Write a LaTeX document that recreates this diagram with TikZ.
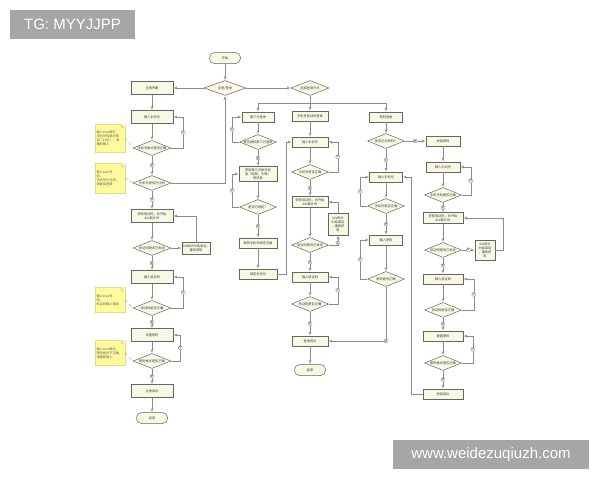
\documentclass[tikz,border=0pt]{standalone}
\usepackage{fontspec}
\setmainfont{Noto Sans CJK SC}
\newfontfamily\wmfont{Liberation Sans}
\usepackage{tikz}
\usetikzlibrary{shapes,arrows}
\definecolor{boxfill}{HTML}{F8F8E4}
\definecolor{boxline}{HTML}{66665A}
\definecolor{lineclr}{HTML}{8C8C8C}
\definecolor{txtclr}{HTML}{3A3A3A}
\definecolor{notefill}{HTML}{FFFA9C}
\definecolor{notedraw}{HTML}{E2DA8A}
\definecolor{notefold}{HTML}{E8E07C}
\definecolor{wmgray}{HTML}{A6A6A6}
\newcommand{\tinytext}{\fontsize{3.2}{3.9}\selectfont}
\newcommand{\decide}[4][37pt]{
	\node [decision, minimum width=#1] (#2) at (#3) {};
	\node [txt] at (#3) {#4};}
\newcommand{\sticky}[4]{
	\node [note, minimum height=#3] (#1) at (#2) {#4};
	\fill [white] ([xshift=-4pt]#1.north east) -- (#1.north east) -- ([yshift=-4pt]#1.north east) -- cycle;
	\fill [notefold] ([xshift=-4pt]#1.north east) -- ([xshift=-4pt,yshift=-4pt]#1.north east) -- ([yshift=-4pt]#1.north east) -- cycle;}
\tikzset{
	proc/.style={draw=boxline, fill=boxfill, line width=0.5pt, minimum width=36pt, minimum height=10pt, inner sep=0.5pt, font=\tinytext, align=center, text=txtclr},
	bigproc/.style={proc, minimum width=42pt, minimum height=13pt},
	term/.style={proc, rounded corners=5pt, minimum width=31pt, minimum height=11pt},
	decision/.style={diamond, draw=boxline, fill=boxfill, line width=0.5pt, minimum height=15pt, inner sep=0pt},
	txt/.style={font=\tinytext, text=txtclr, inner sep=0pt, align=center},
	note/.style={draw=notedraw, fill=notefill, line width=0.3pt, text width=27pt, inner sep=1.5pt, font=\tinytext, align=left, text=txtclr!80},
	flow/.style={draw=lineclr, line width=0.4pt, ->},
	memolink/.style={draw=lineclr, line width=0.3pt, dashed},
	yn/.style={draw=lineclr, fill=white, line width=0.3pt, rounded corners=1pt, inner sep=0.5pt, font=\fontsize{2.8}{3}\selectfont, text=txtclr},
	wm/.style={fill=wmgray, text=white, font=\wmfont\fontsize{15}{18}\selectfont, minimum height=29pt, inner sep=0pt}
}
\begin{document}
\begin{tikzpicture}[x=1pt,y=-1pt,>=latex']
	\useasboundingbox (0,0) rectangle (600,480);
	\node [wm, minimum width=125pt] (tg) at (72.5,24.5) {TG: MYYJJPP};
	\node [wm, minimum width=196pt] (site) at (491,454.5) {www.weidezuqiuzh.com};

	% top
	\node [term] (begin) at (225,58) {开始};
	\decide[42pt]{entry}{225,88}{注册/登录}
	\decide[38pt]{mode}{310,88}{选择登录方式}
	\node [bigproc] (signup) at (152,88) {注册界面};
	\coordinate (split) at (310,103);

	% register
	\node [bigproc] (r_phone) at (152,117) {输入手机号};
	\decide[38pt]{r_fmt}{152,148}{手机号格式是否正确}
	\decide[38pt]{r_used}{152,183}{手机号是否已注册}
	\node [bigproc] (r_code) at (152,216) {获取验证码，并开始\\60s倒计时};
	\decide[38pt]{r_sent}{152,248}{验证码是否已发送}
	\node [proc, minimum width=28pt, minimum height=12pt] (r_retry) at (196,248) {60s倒计时结束后，\\重新获取};
	\node [bigproc] (r_input) at (152,277) {输入验证码};
	\decide[38pt]{r_ok}{152,308}{验证码是否正确}
	\node [bigproc] (r_pwd) at (152,335) {设置密码};
	\decide[38pt]{r_pfmt}{152,361}{密码格式是否正确}
	\node [bigproc] (r_done) at (152,391) {注册成功};
	\node [term] (r_end) at (152,418) {结束};
	\sticky{n1}{110,138}{28pt}{输入xxxx数字，\\手机号码格式错\\误（11位），请\\重新输入}
	\sticky{n2}{110,178}{30pt}{输入xxxx号\\码，\\手机号已注册，\\请直接登录}
	\sticky{n3}{110,300}{25pt}{输入xxxx号\\码，\\验证码输入错误}
	\sticky{n4}{110,353}{25pt}{输入xxxx格式，\\密码格式不正确，\\请重新输入}

	% third party
	\node [proc, minimum width=32pt] (t_login) at (258,117) {第三方登录};
	\decide{t_auth}{258,142}{是否授权第三方登录}
	\node [proc, minimum width=38pt, minimum height=15pt] (t_info) at (258,174) {获取第三方账号信\\息（昵称、头像）\\等信息};
	\decide{t_bound}{258,207}{是否已绑定？}
	\node [proc, minimum width=38pt] (t_bind) at (258,243) {跳转手机号绑定页面};
	\node [proc, minimum width=38pt] (t_phone) at (258,274) {绑定手机号};

	% code login
	\node [proc] (c_login) at (310,116) {手机号验证码登录};
	\node [proc] (c_phone) at (310,142) {输入手机号};
	\decide{c_fmt}{310,172}{手机号是否正确}
	\node [proc, minimum width=36pt, minimum height=11pt] (c_code) at (310,202) {获取验证码，并开始\\60s倒计时};
	\decide{c_sent}{310,245}{验证码是否已发送}
	\node [proc, minimum width=20pt, minimum height=22pt] (c_retry) at (338,224) {60s倒计\\时结束后\\，重新获\\取};
	\node [proc] (c_input) at (310,277) {输入验证码};
	\decide{c_ok}{310,304}{验证码是否正确}
	\node [proc] (c_done) at (310,341) {登录成功};
	\node [term] (c_end) at (310,370) {结束};

	% password login
	\node [proc, minimum width=33pt] (p_login) at (386,117) {密码登录};
	\decide{p_forgot}{386,141}{是否忘记密码？}
	\node [proc, minimum width=33pt] (p_phone) at (386,177) {输入手机号};
	\decide{p_fmt}{386,206}{手机号是否正确}
	\node [proc, minimum width=33pt] (p_pwd) at (386,240) {输入密码};
	\decide{p_ok}{386,279}{密码是否正确}

	% find password
	\node [proc, minimum width=34pt] (f_find) at (443,141) {找回密码};
	\node [proc, minimum width=34pt] (f_phone) at (443,167) {输入手机号};
	\decide{f_fmt}{443,195}{手机号码是否正确}
	\node [proc, minimum width=40pt, minimum height=11pt] (f_code) at (443,218) {获取验证码，并开始\\60s倒计时};
	\decide{f_sent}{443,250}{验证码是否已发送}
	\node [proc, minimum width=20pt, minimum height=20pt] (f_retry) at (485,250) {60s倒计\\时结束后\\，重新获\\取};
	\node [proc, minimum width=40pt] (f_input) at (443,279) {输入验证码};
	\decide{f_ok}{443,310}{验证码是否正确}
	\node [proc, minimum width=40pt] (f_pwd) at (443,336) {重置密码};
	\decide{f_pfmt}{443,363}{密码格式是否正确}
	\node [proc, minimum width=40pt] (f_done) at (443,394) {找回成功};

	% connectors
	\draw [flow] (begin) -- (entry);
	\draw [flow] (entry) -- (signup);
	\draw [flow] (entry) -- (mode);
	\draw [flow] (mode) -- (c_login);
	\draw [flow] (split) -| (t_login);
	\draw [flow] (split) -| (p_login);

	\draw [flow] (signup) -- (r_phone);
	\draw [flow] (r_phone) -- (r_fmt);
	\draw [flow] (r_fmt.east) -- ++(12,0) |- node [yn,pos=0.25] {否} (r_phone.east);
	\draw [flow] (r_fmt) -- node [yn] {是} (r_used);
	\draw [flow] (r_used.east) -| (entry.south);
	\draw [flow] (r_used) -- node [yn] {否} (r_code);
	\draw [flow] (r_code) -- (r_sent);
	\draw [flow] (r_sent) -- (r_retry);
	\draw [flow] (r_retry.north) |- (r_code.east);
	\draw [flow] (r_sent) -- node [yn] {是} (r_input);
	\draw [flow] (r_input) -- (r_ok);
	\draw [flow] (r_ok.east) -- ++(12,0) |- node [yn,pos=0.25] {否} (r_input.east);
	\draw [flow] (r_ok) -- node [yn] {是} (r_pwd);
	\draw [flow] (r_pwd) -- (r_pfmt);
	\draw [flow] (r_pfmt.east) -- ++(9,0) |- node [yn,pos=0.25] {否} (r_pwd.east);
	\draw [flow] (r_pfmt) -- node [yn] {是} (r_done);
	\draw [flow] (r_done) -- (r_end);
	\draw [memolink] (n1.east) -- (r_fmt.west);
	\draw [memolink] (n2.east) -- (r_used.west);
	\draw [memolink] (n3.east) -- (r_ok.west);
	\draw [memolink] (n4.east) -- (r_pfmt.west);

	\draw [flow] (t_login) -- (t_auth);
	\draw [flow] (t_auth.west) -- ++(-7,0) |- node [yn,pos=0.25] {否} (t_login.west);
	\draw [flow] (t_auth) -- node [yn] {是} (t_info);
	\draw [flow] (t_info) -- (t_bound);
	\draw [flow] (t_bound.west) -- ++(-7,0) |- node [yn,pos=0.25] {否} (t_info.west);
	\draw [flow] (t_bound) -- node [yn] {是} (t_bind);
	\draw [flow] (t_bind) -- (t_phone);
	\draw [flow] (t_phone.east) -- ++(9,0) |- (c_phone.west);

	\draw [flow] (c_login) -- (c_phone);
	\draw [flow] (c_phone) -- (c_fmt);
	\draw [flow] (c_fmt.east) -- ++(9,0) |- node [yn,pos=0.25] {否} (c_phone.east);
	\draw [flow] (c_fmt) -- node [yn] {是} (c_code);
	\draw [flow] (c_code) -- (c_sent);
	\draw [flow] (c_sent.east) -| node [yn,pos=0.6] {否} (c_retry.south);
	\draw [flow] (c_retry.north) |- (c_code.east);
	\draw [flow] (c_sent) -- node [yn] {是} (c_input);
	\draw [flow] (c_input) -- (c_ok);
	\draw [flow] (c_ok.east) -- ++(9,0) |- node [yn,pos=0.25] {否} (c_input.east);
	\draw [flow] (c_ok) -- node [yn] {是} (c_done);
	\draw [flow] (c_done) -- (c_end);

	\draw [flow] (p_login) -- (p_forgot);
	\draw [flow] (p_forgot) -- node [yn] {是} (f_find);
	\draw [flow] (p_forgot) -- node [yn] {否} (p_phone);
	\draw [flow] (p_phone) -- (p_fmt);
	\draw [flow] (p_fmt.west) -- ++(-7,0) |- node [yn,pos=0.25] {否} (p_phone.west);
	\draw [flow] (p_fmt) -- node [yn] {是} (p_pwd);
	\draw [flow] (p_pwd) -- (p_ok);
	\draw [flow] (p_ok.west) -- ++(-7,0) |- node [yn,pos=0.25] {否} (p_pwd.west);
	\draw [flow] (p_ok) |- node [yn,pos=0.5] {是} (c_done);

	\draw [flow] (f_find) -- (f_phone);
	\draw [flow] (f_phone) -- (f_fmt);
	\draw [flow] (f_fmt.east) -- ++(9,0) |- node [yn,pos=0.25] {否} (f_phone.east);
	\draw [flow] (f_fmt) -- node [yn] {是} (f_code);
	\draw [flow] (f_code) -- (f_sent);
	\draw [flow] (f_sent) -- node [yn] {否} (f_retry);
	\draw [flow] (f_retry.east) -- ++(8,0) |- (f_code.east);
	\draw [flow] (f_sent) -- node [yn] {是} (f_input);
	\draw [flow] (f_input) -- (f_ok);
	\draw [flow] (f_ok.east) -- ++(12,0) |- node [yn,pos=0.25] {否} (f_input.east);
	\draw [flow] (f_ok) -- node [yn] {是} (f_pwd);
	\draw [flow] (f_pwd) -- (f_pfmt);
	\draw [flow] (f_pfmt.east) -- ++(11,0) |- node [yn,pos=0.25] {否} (f_pwd.east);
	\draw [flow] (f_pfmt) -- node [yn] {是} (f_done);
	\draw [flow] (f_done.west) -- ++(-12,0) |- (p_phone.east);
\end{tikzpicture}
\end{document}
